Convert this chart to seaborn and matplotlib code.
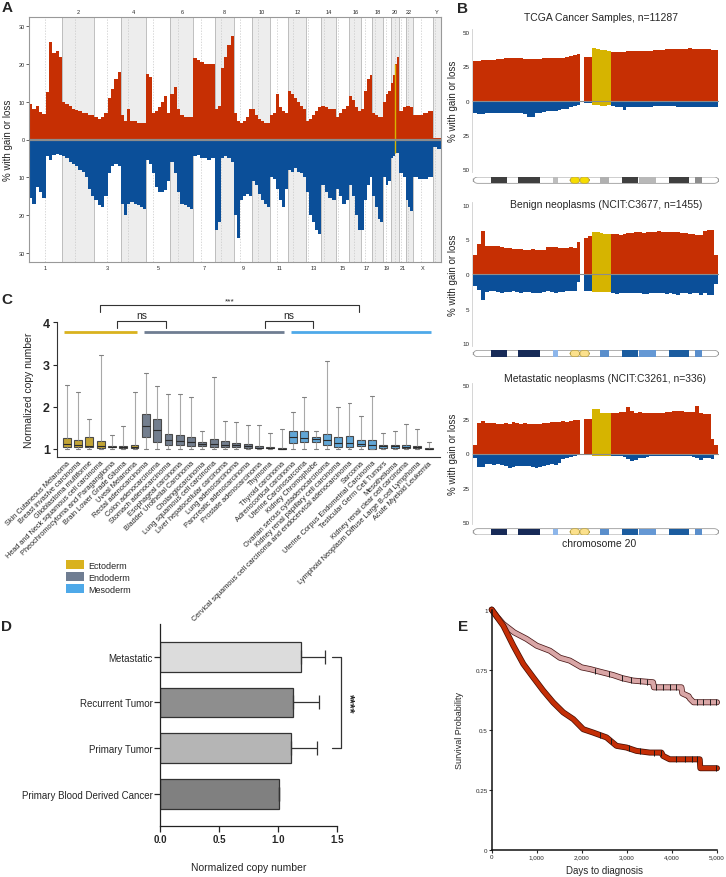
import numpy as np
import pandas as pd
import seaborn as sns
import matplotlib.pyplot as plt
import matplotlib.patheffects as pe
from matplotlib.patches import FancyBboxPatch, Rectangle, Patch

sns.set_theme(style="white")
plt.rcParams["font.family"] = ["Liberation Sans", "DejaVu Sans"]

RED = "#C62F03"
BLUE = "#0B4F99"
YELLOW = "#D6B400"

# ---------------- panel A: genome-wide CNV frequency ----------------
chrom_names = ["1", "2", "3", "4", "5", "6", "7", "8", "9", "10", "11", "12",
               "13", "14", "15", "16", "17", "18", "19", "20", "21", "22", "X", "Y"]
chrom_len = [248, 242, 198, 190, 181, 171, 159, 145, 138, 134, 135, 133,
             114, 107, 102, 90, 83, 80, 59, 64, 47, 51, 156, 57]
chrom_cen = [123, 93, 91, 50, 48, 59, 60, 45, 43, 40, 53, 35,
             17, 17, 19, 36, 25, 18, 26, 28, 12, 15, 60, 10]
a_gain = [
    [9.5, 8.2, 9.0, 7.3, 6.8, 12.5, 26, 23, 23.5, 21.8],
    [10, 9.5, 9, 8, 7.8, 7.5, 7, 7, 6.5, 6.5],
    [6, 5.5, 6, 7, 11, 13.5, 16, 18],
    [6.5, 5, 8, 5, 4.8, 4.5, 4.5, 4.5],
    [17.5, 16.5, 7, 7.5, 8.5, 10, 11.5, 7],
    [12, 14, 8, 6.5, 6, 6, 6],
    [21.5, 21, 20.5, 20, 20, 20],
    [8, 9, 19, 22, 25, 27.5],
    [7, 5, 4.5, 5, 6, 8],
    [8, 6.5, 5.5, 5, 4.5, 4.5],
    [6.5, 7, 12, 8.5, 7.5, 7],
    [13, 12, 11, 10, 9, 8],
    [5, 5.5, 6.5, 7.5, 8.5],
    [9, 8.5, 8, 8],
    [6, 7, 8, 9],
    [11.5, 10.5, 8.5, 7.5],
    [8, 13, 16, 17],
    [7, 6.5, 6, 6],
    [10, 12, 13],
    [15, 17, 20, 22],
    [7.5, 8.5],
    [9, 9, 8.5],
    [6.5, 6.5, 7, 7.5],
    [0.5, 0.5],
]
a_loss = [
    [15.5, 17, 12.5, 14, 15.5, 4.5, 5.5, 4, 3.8, 4.2],
    [4.5, 5, 6, 6.5, 7, 8, 8.5, 10, 13, 15],
    [16, 17.5, 18, 15, 9, 7, 6.5, 7],
    [17, 20, 17, 16.5, 17, 17.5, 18, 18.5],
    [5.5, 6.5, 9, 12.5, 14, 14, 13.5, 11],
    [6, 9, 14, 17, 17.5, 18, 18.5],
    [4.5, 4, 5, 5, 5.5, 5],
    [24, 22, 5, 4.5, 5, 6],
    [20, 26, 16, 15, 14.5, 15],
    [11, 12, 14.5, 16, 17, 18],
    [10, 10.5, 13, 16, 18, 13],
    [8, 8.5, 7.5, 8.5, 9, 10],
    [14, 20, 22, 24, 25],
    [12, 14, 15.5, 16],
    [13, 15, 17, 16],
    [12, 15, 20, 24],
    [24, 16, 12, 10],
    [15, 18, 21, 22],
    [10, 12, 11],
    [5, 4.5, 3.5, 3.5],
    [9, 10],
    [16, 18, 19],
    [10, 10.5, 10.5, 10],
    [2, 2.5],
]
a_highlight_mb = 32  # position on chr20 marked in yellow

# ---------------- panel B: chromosome 20, 1 Mb bins ----------------
nan = np.nan
b_highlight = [31, 32, 33, 34, 35]
b1_gain = [29, 29, 29.5, 29.5, 30, 30, 30.5, 30.5, 31, 31, 31, 31, 31, 30.5, 30.5, 30.5,
           30.5, 30.5, 31, 31, 31, 31, 31.5, 31.5, 32, 32.5, 33.5, 34.5, nan, 32, 32,
           38.5, 38, 37, 37, 36.5,
           35.5, 35.5, 35.5, 35.5, 36, 36, 36, 36, 36.5, 36.5, 36.5, 37, 37, 37,
           37.5, 37.5, 37.5, 38, 38, 38, 38.5, 38, 38, 37.5, 37.5, 37.5, 37, 37]
b1_loss = [9.5, 10, 10, 9.5, 9.5, 9.5, 9.5, 9.5, 9.5, 9, 9, 9, 9.5, 10, 12, 12, 9.5, 9,
           8.5, 8, 8, 7.5, 7, 6.5, 6, 5, 4, 3.5, nan, 2, 2,
           3.5, 3.5, 4, 4, 3.5,
           4, 4.5, 4.5, 7, 5, 5, 4.5, 4.5, 4.5, 4.5, 4.5, 4, 4, 4, 4, 4, 4, 4.5,
           4.5, 4.5, 4.5, 4.5, 4.5, 5, 5, 5, 5, 4.5]
b2_gain = [2.8, 4.3, 6.2, 4.1, 4.1, 4.1, 4.0, 3.9, 3.8, 3.7, 3.6, 3.6, 3.6, 3.5, 3.5, 3.6,
           3.5, 3.5, 3.5, 3.9, 3.9, 3.9, 3.7, 3.7, 3.8, 3.9, 3.8, 4.6, nan, 5.2, 5.5,
           6.1, 6.0, 5.9, 5.8, 5.8,
           5.8, 5.8, 5.7, 5.8, 5.9, 5.9, 6.0, 6.0, 5.9, 6.0, 6.1, 6.0, 6.2, 6.1,
           6.0, 6.1, 6.0, 6.0, 5.9, 5.9, 5.8, 5.8, 5.7, 5.6, 6.2, 6.4, 6.3, 2.8]
b2_loss = [1.8, 2.3, 3.8, 2.6, 2.5, 2.5, 2.6, 2.7, 2.6, 2.6, 2.5, 2.6, 2.7, 2.6, 2.6, 2.7,
           2.8, 2.7, 2.6, 2.5, 2.6, 2.7, 2.6, 2.6, 2.5, 2.5, 2.4, 1.2, nan, 2.4, 2.4,
           2.6, 2.6, 2.6, 2.6, 2.6,
           2.7, 2.9, 2.8, 2.7, 2.8, 2.8, 2.7, 2.8, 2.9, 2.9, 2.8, 2.8, 2.7, 2.8,
           2.9, 2.8, 2.9, 3.0, 2.8, 2.8, 2.9, 2.8, 2.8, 3.0, 2.8, 3.1, 3.1, 1.5]
b3_gain = [6.5, 22.5, 24, 22.5, 22.5, 22.5, 22, 22, 22.5, 22, 23.5, 22.5, 22, 22.5, 22, 22,
           22, 22, 22.5, 22.5, 23, 23, 23.5, 24, 23.5, 24, 24.5, 24.5, nan, 25, 25,
           33, 33, 30, 30, 30,
           30, 30, 30.5, 30.5, 34.5, 31, 30, 30.5, 29.5, 30, 30, 29.5, 30, 30,
           30.5, 30.5, 31, 31, 31, 30.5, 30.5, 30.5, 35, 29.5, 29, 29, 11, 6.5]
b3_loss = [3, 10, 10, 8, 8, 8.5, 8, 8.5, 9, 10.5, 10, 9, 9, 9, 9.5, 10, 10.5, 10, 9, 8.5,
           8, 8.5, 7, 4, 3, 2.5, 1.5, 1, nan, 1, 1,
           1.5, 1.5, 1.5, 1.5, 1.5,
           1.5, 1.5, 2, 2.5, 4, 5.5, 5, 3, 3, 2.5, 2, 2, 2, 2, 2, 1.5, 1.5, 1.5,
           2, 2, 2, 2.5, 3, 5, 3, 3, 4, 1]

# chr20 cytobands (Mb)
band_start = [4.6, 11.6, 20.9, 33.1, 38.8, 43.3, 51.1, 57.8]
band_end = [8.7, 17.4, 22.0, 35.5, 42.9, 47.7, 56.4, 59.8]
band_gray = ["#3F3F3F", "#3F3F3F", "#BDBDBD", "#B0B0B0", "#3F3F3F", "#B8B8B8", "#3F3F3F", "#8C8C8C"]
band_blue = ["#172A57", "#172A57", "#8DB6EA", "#5A8ECB", "#1B5C9F", "#6598D4", "#1B5C9F", "#5A8ECB"]
cen_start, cen_mid, cen_end = 25.3, 27.8, 30.3

# ---------------- panel C: copy number by tumour type ----------------
c_labels = ["Skin Cutaneous Melanoma", "Breast invasive carcinoma", "Glioblastoma multiforme",
            "Head and Neck squamous cell carcinoma", "Pheochromocytoma and Paraganglioma",
            "Brain Lower Grade Glioma", "Uveal Melanoma",
            "Rectal adenocarcinoma", "Colon adenocarcinoma", "Stomach adenocarcinoma",
            "Esophageal carcinoma", "Bladder Urothelial Carcinoma", "Cholangiocarcinoma",
            "Lung squamous cell carcinoma", "Liver hepatocellular carcinoma", "Lung adenocarcinoma",
            "Pancreatic adenocarcinoma", "Prostate adenocarcinoma", "Thymoma", "Thyroid carcinoma",
            "Adrenocortical carcinoma", "Uterine Carcinosarcoma", "Kidney Chromophobe",
            "Ovarian serous cystadenocarcinoma", "Kidney renal papillary cell carcinoma",
            "Cervical squamous cell carcinoma and endocervical adenocarcinoma", "Sarcoma",
            "Uterine Corpus Endometrial Carcinoma", "Testicular Germ Cell Tumors", "Mesothelioma",
            "Kidney renal clear cell carcinoma", "Lymphoid Neoplasm Diffuse Large B-cell Lymphoma",
            "Acute Myeloid Leukemia"]
c_layer = ["Ectoderm"] * 7 + ["Endoderm"] * 13 + ["Mesoderm"] * 13
c_min = [1.0] * 33
c_q1 = [1.04, 1.04, 1.04, 1.02, 1.04, 1.02, 1.02,
        1.29, 1.17, 1.10, 1.10, 1.08, 1.06, 1.05, 1.04, 1.04, 1.02, 1.01, 1.01, 1.0,
        1.13, 1.16, 1.17, 1.10, 1.04, 1.04, 1.06, 1.0, 1.02, 1.02, 1.02, 1.02, 1.0]
c_med = [1.12, 1.10, 1.08, 1.07, 1.05, 1.04, 1.04,
         1.54, 1.45, 1.22, 1.18, 1.16, 1.12, 1.12, 1.10, 1.09, 1.06, 1.03, 1.02, 1.0,
         1.28, 1.25, 1.23, 1.20, 1.15, 1.14, 1.12, 1.10, 1.06, 1.06, 1.05, 1.04, 1.0]
c_q3 = [1.25, 1.21, 1.29, 1.18, 1.08, 1.06, 1.09,
        1.82, 1.70, 1.35, 1.33, 1.28, 1.17, 1.23, 1.18, 1.14, 1.12, 1.06, 1.05, 1.01,
        1.42, 1.43, 1.28, 1.36, 1.28, 1.30, 1.20, 1.22, 1.10, 1.10, 1.10, 1.06, 1.01]
c_max = [2.52, 2.34, 1.70, 3.22, 1.32, 1.55, 2.36,
         2.79, 2.49, 2.29, 2.29, 2.22, 1.43, 2.70, 1.66, 1.63, 1.57, 1.57, 1.38, 1.46,
         1.88, 2.22, 1.43, 3.09, 1.99, 2.08, 1.77, 2.25, 1.37, 1.43, 1.58, 1.46, 1.16]
layer_colors = {"Ectoderm": "#D9B21E", "Endoderm": "#6F7D92", "Mesoderm": "#4EA9E9"}

# ---------------- panel D ----------------
d_cats = ["Metastatic", "Recurrent Tumor", "Primary Tumor", "Primary Blood Derived Cancer"]
d_mean = [1.195, 1.13, 1.11, 1.005]
d_err = [0.205, 0.22, 0.22, 0.005]
d_colors = ["#DCDCDC", "#8E8E8E", "#B5B5B5", "#808080"]

# ---------------- panel E: survival ----------------
e_days_hi = [0, 120, 257, 500, 775, 1000, 1292, 1514, 1735, 1994, 2178, 2400, 2695, 2900,
             3138, 3580, 3600, 4210, 4230, 4370, 4400, 4480, 5000]
e_surv_hi = [1.0, 0.97, 0.94, 0.905, 0.878, 0.85, 0.829, 0.80, 0.788, 0.76, 0.753, 0.742,
             0.728, 0.715, 0.705, 0.698, 0.677, 0.677, 0.652, 0.64, 0.63, 0.615, 0.615]
e_days_lo = [0, 258, 480, 702, 923, 1145, 1366, 1588, 1810, 2031, 2253, 2548, 2770, 2991,
             3213, 3508, 3766, 3804, 3951, 4616, 4630, 5000]
e_surv_lo = [1.0, 0.933, 0.85, 0.774, 0.718, 0.663, 0.614, 0.573, 0.545, 0.503, 0.489,
             0.469, 0.434, 0.427, 0.413, 0.406, 0.406, 0.392, 0.378, 0.378, 0.341, 0.341]
e_cens_hi = [2300, 2600, 2900, 3100, 3300, 3450, 3650, 3800, 3950, 4100, 4550, 4700, 4850, 4980]
e_cens_lo = [2400, 2650, 3050, 3300, 3600, 3750, 4100, 4300, 4450, 4550, 4980]

W, H = 726, 878


def px_box(l, t, r, b):
    return [l / W, 1 - b / H, (r - l) / W, (b - t) / H]


fig = plt.figure(figsize=(W / 100, H / 100), dpi=100)

# ===== A =====
axA = fig.add_axes(px_box(29, 18, 441, 263))
starts = np.concatenate([[0], np.cumsum(chrom_len)[:-1]])
total = sum(chrom_len)
for i, L in enumerate(chrom_len):
    s = starts[i]
    if i % 2 == 1:
        axA.axvspan(s, s + L, color="#EDEDED", lw=0, zorder=0)
    axA.axvline(s + chrom_cen[i], color="#C8C8C8", lw=0.5, ls=(0, (2, 2)), zorder=1)
    if i > 0:
        axA.axvline(s, color="#B5B5B5", lw=0.6, zorder=1)
    for vals, sign, col in [(a_gain[i], 1, RED), (a_loss[i], -1, BLUE)]:
        n = len(vals)
        edges = s + np.arange(n + 1) * L / n
        axA.fill_between(edges, sign * np.r_[vals, vals[-1]], step="post",
                         color=col, lw=0, zorder=2)
# yellow marker on chromosome 20
k = int(a_highlight_mb / chrom_len[19] * len(a_gain[19]))
axA.vlines(starts[19] + a_highlight_mb, -a_loss[19][k], a_gain[19][k], color=YELLOW, lw=1, zorder=3)
axA.axhline(0, color="#8C8C8C", lw=1.6, zorder=4)
axA.set_xlim(0, total)
axA.set_ylim(-32.5, 32.5)
yt = [-30, -20, -10, 0, 10, 20, 30]
axA.set_yticks(yt, [str(abs(v)) for v in yt], fontsize=4)
centres = starts + np.array(chrom_len) / 2
axA.set_xticks(centres[0::2], chrom_names[0::2], fontsize=4)
topax = axA.secondary_xaxis("top")
topax.set_xticks(centres[1::2], chrom_names[1::2], fontsize=4)
topax.tick_params(length=0, pad=2)
axA.tick_params(axis="x", length=0, pad=2)
axA.tick_params(axis="y", length=2, width=0.5, pad=1, left=True)
axA.set_ylabel("% with gain or loss", fontsize=7, labelpad=4)
for sp in axA.spines.values():
    sp.set_color("#999999")
    sp.set_linewidth(0.8)
topax.spines["top"].set_visible(False)


# ===== B =====
def draw_b(top, bottom, ideo_top, gain, loss, lim, ticks, colors, cen_col):
    ax = fig.add_axes(px_box(472, top, 719, bottom))
    x = np.arange(len(gain)) + 0.5
    gcol = [YELLOW if i in b_highlight else RED for i in range(len(gain))]
    lcol = [YELLOW if i in b_highlight else BLUE for i in range(len(gain))]
    ax.bar(x, gain, width=1.0, color=gcol, lw=0)
    ax.bar(x, -np.array(loss), width=1.0, color=lcol, lw=0)
    ax.axhline(0, color="#8C8C8C", lw=0.8)
    ax.set_xlim(-0.34, 64.18)
    ax.set_ylim(-lim, lim)
    ax.set_xticks([])
    ax.set_yticks(ticks, [str(abs(t)) for t in ticks], fontsize=4.5)
    ax.tick_params(axis="y", length=0, pad=2)
    ax.set_ylabel("% with gain or loss", fontsize=7, labelpad=3)
    for name, sp in ax.spines.items():
        sp.set_visible(name == "left")
    ax.spines["left"].set_color("#CFCFCF")
    ax.spines["left"].set_linewidth(0.6)

    ia = fig.add_axes(px_box(472, ideo_top, 719, ideo_top + 7))
    ia.set_xlim(-0.34, 64.18)
    ia.set_ylim(0, 1)
    ia.axis("off")
    asp = (245 / 64) / 7
    ia.add_patch(FancyBboxPatch((0, 0.05), 64.1, 0.9, boxstyle="round,pad=0,rounding_size=1.2",
                                mutation_aspect=asp, fc="white", ec="#9A9A9A", lw=0.6))
    for s0, s1, c in zip(band_start, band_end, colors):
        ia.add_patch(Rectangle((s0, 0.05), s1 - s0, 0.9, fc=c, ec="none"))
    for c0, c1 in [(cen_start, cen_mid), (cen_mid, cen_end)]:
        ia.add_patch(FancyBboxPatch((c0, 0.05), c1 - c0, 0.9, boxstyle="round,pad=0,rounding_size=1.0",
                                    mutation_aspect=asp, fc=cen_col, ec="#B8A040", lw=0.5))
    return ax


draw_b(30, 173, 177.7, b1_gain, b1_loss, 52.5, [-50, -25, 0, 25, 50], band_gray, "#F5DC00")
draw_b(203.3, 346.7, 351, b2_gain, b2_loss, 10.35, [-10, -5, 0, 5, 10], band_blue, "#FBE08C")
draw_b(383.7, 525.3, 529.3, b3_gain, b3_loss, 52, [-50, -25, 0, 25, 50], band_blue, "#FBE08C")
fig.text(601 / W, 1 - 18 / H, "TCGA Cancer Samples, n=11287", ha="center", va="center", fontsize=7.5)
fig.text(606 / W, 1 - 205 / H, "Benign neoplasms (NCIT:C3677, n=1455)", ha="center", va="center", fontsize=7.5)
fig.text(605 / W, 1 - 379 / H, "Metastatic neoplasms (NCIT:C3261, n=336)", ha="center", va="center", fontsize=7.5)
fig.text(599 / W, 1 - 544 / H, "chromosome 20", ha="center", va="center", fontsize=7.5)

# ===== C =====
axC = fig.add_axes(px_box(56.7, 323.3, 440, 457.5))
rows = []
for lab, lay, a, b, c, d, e in zip(c_labels, c_layer, c_min, c_q1, c_med, c_q3, c_max):
    for v in (a, b, c, d, e):
        rows.append((lab, lay, v))
dfc = pd.DataFrame(rows, columns=["tumor", "layer", "cn"])
sns.boxplot(data=dfc, x="tumor", y="cn", hue="layer", palette=layer_colors, order=c_labels,
            dodge=False, whis=(0, 100), width=0.7, linewidth=0.8, showfliers=False,
            linecolor="#4A4A4A", legend=False, ax=axC,
            whiskerprops=dict(color="#A8A8A8"), capprops=dict(color="#808080"),
            medianprops=dict(color="#2A2A2A"))
axC.set_xlim(-0.88, 33.0)
axC.set_ylim(0.82, 4.0)
axC.set_yticks([1, 2, 3, 4], ["1", "2", "3", "4"], fontsize=9, fontweight="bold")
axC.set_xticks(range(len(c_labels)))
axC.set_xticklabels(c_labels, rotation=45, ha="right", rotation_mode="anchor", fontsize=5.3)
axC.tick_params(axis="x", length=0, pad=2)
axC.tick_params(axis="y", length=3, width=0.8, left=True, pad=2)
axC.set_xlabel("")
axC.set_ylabel("Normalized copy number", fontsize=7.5, labelpad=6)
sns.despine(ax=axC)
for sp in ("left", "bottom"):
    axC.spines[sp].set_color("#333333")
    axC.spines[sp].set_linewidth(0.8)
layer_names = ["Ectoderm", "Endoderm", "Mesoderm"]
for name in layer_names:
    idx = [i for i, l in enumerate(c_layer) if l == name]
    axC.plot([idx[0] - 0.2, idx[-1] + 0.2], [3.78, 3.78], color=layer_colors[name], lw=2,
             solid_capstyle="butt", clip_on=False)


def bracket(ax, x0, x1, top, leg, text, tsize, ty):
    ax.plot([x0, x0, x1, x1], [leg, top, top, leg], color="#333333", lw=0.8, clip_on=False)
    ax.text((x0 + x1) / 2, ty, text, ha="center", va="bottom", fontsize=tsize)


bracket(axC, 4.48, 8.78, 4.04, 3.86, "ns", 7.5, 4.06)
bracket(axC, 17.5, 21.75, 4.04, 3.86, "ns", 7.5, 4.06)
bracket(axC, 2.95, 25.87, 4.41, 4.24, "***", 6, 4.43)
fig.legend(handles=[Patch(fc=layer_colors[n], ec="none", label=n) for n in layer_names],
           loc="upper left", bbox_to_anchor=(58 / W, 1 - 553 / H), frameon=False, fontsize=6.5,
           handlelength=2.0, handleheight=1.2, labelspacing=0.25, handletextpad=0.5)

# ===== D =====
axD = fig.add_axes(px_box(160, 625, 337, 826.7))
sns.barplot(x=d_mean, y=d_cats, hue=d_cats, palette=d_colors, legend=False, orient="h",
            width=0.65, edgecolor="#333333", linewidth=0.9, ax=axD)
axD.errorbar(d_mean, range(len(d_cats)), xerr=[np.zeros(len(d_err)), d_err], fmt="none",
             ecolor="#333333", elinewidth=0.9, capsize=5, capthick=0.9)
axD.set_xlim(0, 1.5)
axD.set_ylim(3.7, -0.72)
axD.set_xticks([0, 0.5, 1.0, 1.5], ["0.0", "0.5", "1.0", "1.5"], fontsize=7, fontweight="bold")
axD.tick_params(axis="y", labelsize=7, length=4, width=0.9, left=True, pad=1)
axD.tick_params(axis="x", length=4, width=0.9, bottom=True, pad=2)
axD.set_xlabel("Normalized copy number", fontsize=7.5, labelpad=13)
axD.set_ylabel("")
sns.despine(ax=axD)
for sp in ("left", "bottom"):
    axD.spines[sp].set_color("#222222")
    axD.spines[sp].set_linewidth(0.9)
axD.plot([1.46, 1.53, 1.53, 1.46], [0, 0, 2, 2], color="#333333", lw=0.9, clip_on=False)
axD.text(1.6, 1, "****", rotation=270, ha="center", va="center", fontsize=9, fontweight="bold")

# ===== E =====
axE = fig.add_axes(px_box(491.7, 610.6, 717, 851.3))
sns.lineplot(x=e_days_hi, y=e_surv_hi, sort=False, color="#D9A6A6", lw=3.2, ax=axE, clip_on=False,
             path_effects=[pe.Stroke(linewidth=4.3, foreground="#4A1818"), pe.Normal()])
sns.lineplot(x=e_days_lo, y=e_surv_lo, sort=False, color="#C42E06", lw=3.2, ax=axE, clip_on=False,
             path_effects=[pe.Stroke(linewidth=4.3, foreground="#4A1005"), pe.Normal()])
axE.plot(e_cens_hi, np.interp(e_cens_hi, e_days_hi, e_surv_hi), "|", color="#1A1A1A", ms=4, mew=0.7)
axE.plot(e_cens_lo, np.interp(e_cens_lo, e_days_lo, e_surv_lo), "|", color="#1A1A1A", ms=4, mew=0.7)
axE.set_xlim(0, 5000)
axE.set_ylim(0, 1)
axE.set_yticks([0, 0.25, 0.5, 0.75, 1], ["0", "0.25", "0.5", "0.75", "1"], fontsize=4.5)
axE.set_xticks([0, 1000, 2000, 3000, 4000, 5000], ["0", "1,000", "2,000", "3,000", "4,000", "5,000"],
               fontsize=4.5)
axE.tick_params(length=2, width=0.8, left=True, bottom=True, pad=1)
axE.set_xlabel("Days to diagnosis", fontsize=7, labelpad=4)
axE.set_ylabel("Survival Probability", fontsize=6.5, labelpad=8)
sns.despine(ax=axE)
for sp in ("left", "bottom"):
    axE.spines[sp].set_color("#111111")
    axE.spines[sp].set_linewidth(1.1)

# panel letters
for letter, x, y in [("A", 7, 8), ("B", 463, 9), ("C", 7, 300), ("D", 7, 627), ("E", 463, 627)]:
    fig.text(x / W, 1 - y / H, letter, ha="center", va="center", fontsize=11, fontweight="bold")

fig.savefig("out.png", dpi=100)
